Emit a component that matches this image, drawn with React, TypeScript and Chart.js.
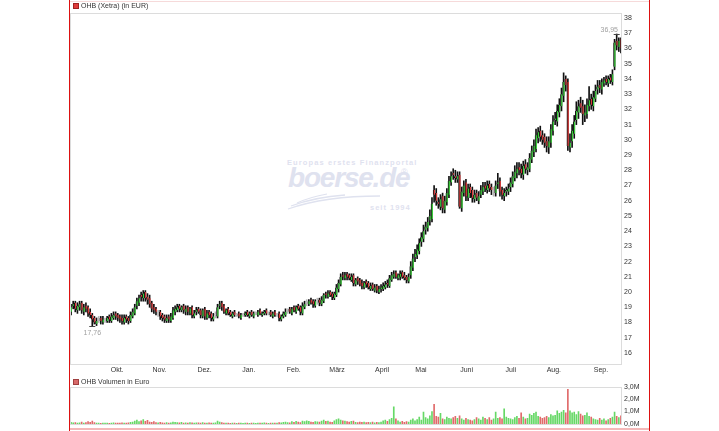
import React, { useEffect, useRef } from 'react';
import { Chart, registerables } from 'chart.js';

Chart.register(...registerables);

const OPEN = [
  18.7, 19.1, 19.3, 18.8, 19.0, 19.3, 18.7, 19.1, 19.0, 18.7,
  18.5, 18.3, 17.9, 18.2, 18.3, 18.0, 18.2, 18.1, 18.4, 18.1,
  18.3, 18.6, 18.5, 18.4, 18.3, 18.0, 18.4, 18.3, 18.1, 18.4,
  18.6, 19.1, 19.3, 19.8, 19.6, 20.0, 19.7, 19.6, 19.3, 19.0,
  18.9, 18.6, 18.7, 18.5, 18.4, 18.1, 18.4, 18.1, 18.3, 18.7,
  18.8, 19.1, 18.8, 19.1, 18.7, 19.0, 18.6, 19.0, 18.4, 18.7,
  18.9, 18.8, 18.4, 18.9, 18.3, 18.7, 18.6, 18.2, 18.5, 18.4,
  19.1, 19.3, 19.1, 18.6, 18.9, 18.7, 18.4, 18.7, 18.5, 18.6,
  18.3, 18.5, 18.5, 18.7, 18.4, 18.7, 18.4, 18.6, 18.5, 18.8,
  18.5, 18.6, 18.8, 18.6, 18.7, 18.4, 18.7, 18.5, 18.6, 18.2,
  18.4, 18.5, 18.8, 18.9, 18.6, 19.0, 18.7, 19.1, 19.0, 18.6,
  19.0, 19.3, 19.2, 19.5, 19.4, 19.1, 19.4, 19.5, 19.2, 19.4,
  19.9, 19.7, 20.0, 19.9, 19.6, 19.8, 20.2, 20.5, 21.1, 20.9,
  21.2, 21.1, 20.8, 21.1, 20.5, 20.9, 20.8, 20.6, 20.3, 20.7,
  20.6, 20.2, 20.5, 20.1, 20.4, 20.0, 20.2, 20.2, 20.3, 20.6,
  20.4, 20.8, 21.0, 21.3, 20.9, 21.0, 21.3, 21.1, 21.0, 20.7,
  21.1, 21.6, 22.3, 22.4, 22.7, 23.3, 23.5, 24.1, 24.2, 24.7,
  24.8, 26.7, 26.5, 25.9, 25.6, 26.3, 25.4, 25.9, 26.4, 27.2,
  27.8, 27.6, 27.4, 27.7, 25.5, 26.5, 27.2, 26.2, 26.9, 26.7,
  26.1, 26.5, 26.0, 26.4, 26.6, 27.0, 26.7, 27.1, 26.9, 26.6,
  26.5, 27.1, 27.3, 26.7, 26.3, 26.6, 26.6, 26.9, 27.1, 27.5,
  27.8, 28.2, 28.1, 27.7, 28.4, 28.0, 28.1, 28.7, 29.2, 29.4,
  30.1, 30.6, 30.3, 30.2, 29.9, 29.5, 29.8, 30.6, 31.3, 31.2,
  31.8, 32.2, 32.9, 34.0, 33.8, 29.5, 29.9, 30.4, 31.3, 31.8,
  32.4, 32.2, 31.6, 31.7, 32.2, 32.7, 32.2, 32.7, 33.3, 33.6,
  33.3, 33.7, 34.0, 33.7, 34.1, 33.8, 34.8, 36.5, 36.1, 36.6,
];

const HIGH = [
  19.2, 19.4, 19.4, 19.3, 19.4, 19.4, 19.2, 19.3, 19.1, 18.9,
  18.6, 18.4, 18.3, 18.4, 18.4, 18.4, 18.3, 18.4, 18.5, 18.6,
  18.7, 18.7, 18.6, 18.5, 18.5, 18.5, 18.5, 18.4, 18.7, 18.9,
  19.2, 19.6, 19.8, 20.0, 20.1, 20.1, 19.9, 19.8, 19.4, 19.2,
  19.0, 18.8, 18.8, 18.6, 18.5, 18.5, 18.5, 18.6, 19.0, 19.1,
  19.2, 19.2, 19.1, 19.2, 19.1, 19.1, 19.0, 19.1, 18.8, 19.0,
  19.0, 18.9, 18.9, 19.0, 18.8, 18.8, 18.7, 18.6, 18.7, 19.2,
  19.4, 19.4, 19.2, 18.9, 19.0, 18.8, 18.7, 18.8, 18.6, 18.7,
  18.6, 18.6, 18.7, 18.8, 18.7, 18.8, 18.7, 18.7, 18.8, 18.9,
  18.7, 18.8, 18.9, 18.7, 18.8, 18.7, 18.8, 18.6, 18.7, 18.5,
  18.7, 18.9, 18.9, 19.0, 19.0, 19.1, 19.1, 19.2, 19.1, 19.3,
  19.4, 19.5, 19.5, 19.6, 19.5, 19.5, 19.6, 19.6, 19.7, 19.9,
  20.0, 20.1, 20.1, 20.0, 20.0, 20.5, 20.8, 21.2, 21.3, 21.3,
  21.3, 21.2, 21.2, 21.2, 20.9, 21.0, 20.9, 20.8, 20.7, 20.8,
  20.7, 20.6, 20.6, 20.5, 20.5, 20.4, 20.5, 20.6, 20.7, 20.8,
  21.1, 21.3, 21.4, 21.4, 21.2, 21.4, 21.4, 21.3, 21.1, 21.2,
  22.0, 22.5, 22.8, 23.1, 23.5, 23.9, 24.4, 24.6, 24.9, 25.4,
  26.2, 27.0, 26.8, 26.2, 26.4, 26.5, 26.3, 26.8, 27.6, 27.9,
  28.1, 28.0, 27.9, 27.9, 26.9, 27.3, 27.4, 27.1, 27.1, 26.9,
  26.7, 26.7, 26.6, 27.0, 27.2, 27.2, 27.3, 27.3, 27.1, 26.9,
  27.3, 27.8, 27.5, 26.9, 26.8, 26.9, 27.1, 27.5, 27.9, 28.3,
  28.5, 28.5, 28.4, 28.6, 28.7, 28.5, 29.1, 29.6, 30.0, 30.7,
  30.8, 30.9, 30.6, 30.4, 30.2, 30.2, 31.0, 31.6, 31.8, 32.3,
  32.7, 33.4, 34.4, 34.2, 34.0, 30.4, 31.0, 31.6, 32.5, 32.6,
  32.8, 32.6, 32.3, 32.7, 33.5, 33.0, 33.2, 33.6, 33.9, 33.9,
  34.0, 34.1, 34.2, 34.2, 34.3, 34.6, 36.6, 36.95, 36.7, 36.7,
];

const LOW = [
  18.5, 18.9, 18.7, 18.6, 18.8, 18.6, 18.5, 18.7, 18.4, 18.3,
  17.76, 17.9, 17.8, 18.0, 17.9, 17.9, 18.0, 18.0, 18.0, 18.0,
  18.2, 18.2, 18.1, 18.0, 17.9, 17.9, 18.0, 17.9, 18.0, 18.3,
  18.5, 18.9, 19.1, 19.4, 19.4, 19.4, 19.2, 19.0, 18.7, 18.6,
  18.5, 18.4, 18.2, 18.1, 18.0, 18.0, 18.0, 18.0, 18.2, 18.5,
  18.7, 18.7, 18.7, 18.6, 18.5, 18.5, 18.5, 18.3, 18.3, 18.5,
  18.6, 18.3, 18.3, 18.2, 18.2, 18.3, 18.1, 18.1, 18.3, 18.3,
  18.9, 18.8, 18.6, 18.5, 18.5, 18.4, 18.3, 18.4, 18.4, 18.3,
  18.2, 18.4, 18.4, 18.4, 18.3, 18.4, 18.3, 18.5, 18.4, 18.5,
  18.4, 18.5, 18.5, 18.5, 18.4, 18.3, 18.4, 18.4, 18.1, 18.1,
  18.3, 18.4, 18.6, 18.6, 18.5, 18.7, 18.6, 18.8, 18.5, 18.5,
  18.9, 19.1, 19.1, 19.2, 19.0, 19.0, 19.2, 19.1, 19.1, 19.3,
  19.6, 19.6, 19.7, 19.5, 19.5, 19.7, 20.0, 20.4, 20.8, 20.8,
  20.8, 20.8, 20.7, 20.4, 20.4, 20.5, 20.4, 20.2, 20.2, 20.3,
  20.2, 20.1, 20.1, 20.0, 19.95, 19.9, 20.0, 20.1, 20.2, 20.3,
  20.3, 20.7, 20.9, 20.9, 20.8, 20.8, 20.9, 20.8, 20.6, 20.6,
  20.9, 21.4, 22.0, 22.2, 22.5, 23.0, 23.3, 23.8, 24.0, 24.4,
  24.6, 25.9, 25.7, 25.5, 25.4, 25.2, 25.2, 25.7, 26.2, 27.0,
  27.4, 27.2, 27.2, 25.5, 25.3, 26.3, 26.0, 26.0, 26.2, 25.9,
  25.9, 26.0, 25.8, 26.2, 26.4, 26.6, 26.5, 26.6, 26.4, 26.3,
  26.3, 26.8, 26.3, 26.1, 26.0, 26.3, 26.4, 26.6, 26.9, 27.3,
  27.5, 27.7, 27.5, 27.4, 27.8, 27.7, 27.9, 28.5, 28.9, 29.2,
  29.8, 29.9, 29.7, 29.5, 29.2, 29.1, 29.5, 30.3, 31.0, 30.9,
  31.5, 31.9, 32.5, 33.2, 29.3, 29.2, 29.5, 30.1, 31.0, 31.4,
  31.8, 31.0, 31.2, 31.4, 31.9, 32.0, 31.9, 32.5, 33.0, 33.1,
  33.0, 33.5, 33.6, 33.5, 33.7, 33.6, 34.6, 35.9, 35.8, 35.7,
];

const CLOSE = [
  19.0, 19.2, 18.9, 19.1, 19.2, 18.8, 19.0, 18.9, 18.6, 18.5,
  18.2, 18.0, 18.1, 18.2, 18.1, 18.2, 18.2, 18.3, 18.2, 18.4,
  18.5, 18.4, 18.3, 18.2, 18.1, 18.3, 18.2, 18.1, 18.5, 18.7,
  19.0, 19.4, 19.6, 19.7, 19.9, 19.6, 19.5, 19.2, 18.9, 18.8,
  18.7, 18.6, 18.4, 18.3, 18.2, 18.3, 18.2, 18.4, 18.8, 18.9,
  19.0, 18.9, 19.0, 18.8, 18.9, 18.7, 18.9, 18.5, 18.6, 18.8,
  18.7, 18.5, 18.8, 18.4, 18.6, 18.5, 18.3, 18.4, 18.5, 19.0,
  19.2, 19.0, 18.7, 18.8, 18.6, 18.5, 18.6, 18.5, 18.5, 18.4,
  18.5, 18.5, 18.6, 18.5, 18.6, 18.5, 18.6, 18.6, 18.7, 18.6,
  18.6, 18.7, 18.6, 18.6, 18.5, 18.6, 18.5, 18.5, 18.3, 18.4,
  18.6, 18.7, 18.8, 18.7, 18.9, 18.8, 19.0, 18.9, 18.7, 19.1,
  19.2, 19.3, 19.4, 19.3, 19.2, 19.4, 19.4, 19.3, 19.5, 19.8,
  19.8, 19.9, 19.8, 19.7, 19.9, 20.3, 20.6, 21.0, 21.0, 21.1,
  21.0, 20.9, 21.0, 20.6, 20.8, 20.7, 20.5, 20.4, 20.6, 20.5,
  20.3, 20.4, 20.2, 20.3, 20.1, 20.2, 20.3, 20.4, 20.5, 20.5,
  20.9, 21.1, 21.2, 21.0, 21.1, 21.2, 21.0, 20.9, 20.8, 21.0,
  21.7, 22.2, 22.5, 22.8, 23.2, 23.6, 24.0, 24.3, 24.6, 25.0,
  25.8, 26.4, 26.0, 25.8, 26.1, 25.5, 26.0, 26.5, 27.3, 27.6,
  27.7, 27.5, 27.6, 25.6, 26.6, 27.0, 26.3, 26.8, 26.5, 26.2,
  26.4, 26.2, 26.3, 26.7, 26.9, 26.8, 27.0, 26.8, 26.7, 26.6,
  27.0, 27.2, 26.6, 26.4, 26.5, 26.7, 26.8, 27.2, 27.6, 27.9,
  28.1, 28.0, 27.8, 28.3, 28.1, 28.2, 28.8, 29.3, 29.6, 30.3,
  30.5, 30.2, 30.0, 29.8, 29.6, 29.9, 30.7, 31.2, 31.4, 31.9,
  32.3, 33.0, 33.8, 33.6, 29.6, 29.8, 30.6, 31.2, 31.9, 32.2,
  32.1, 31.7, 31.8, 32.3, 32.6, 32.3, 32.8, 33.2, 33.5, 33.4,
  33.8, 33.9, 33.8, 34.0, 33.9, 34.3, 36.4, 36.2, 36.5, 36.0,
];

// volume in millions of euro
const VOLUME = [
  0.12, 0.08, 0.10, 0.06, 0.09, 0.14, 0.07, 0.10, 0.18, 0.12,
  0.22, 0.10, 0.06, 0.05, 0.04, 0.06, 0.05, 0.07, 0.04, 0.06,
  0.08, 0.06, 0.05, 0.07, 0.09, 0.06, 0.05, 0.08, 0.12, 0.15,
  0.22, 0.30, 0.18, 0.25, 0.35, 0.20, 0.28, 0.15, 0.12, 0.18,
  0.10, 0.08, 0.12, 0.09, 0.07, 0.10, 0.06, 0.08, 0.14, 0.12,
  0.10, 0.08, 0.12, 0.07, 0.09, 0.06, 0.10, 0.08, 0.07, 0.09,
  0.08, 0.06, 0.10, 0.07, 0.05, 0.08, 0.06, 0.07, 0.09, 0.22,
  0.15, 0.10, 0.07, 0.06, 0.05, 0.04, 0.06, 0.05, 0.04, 0.05,
  0.05, 0.04, 0.06, 0.05, 0.04, 0.05, 0.06, 0.04, 0.07, 0.05,
  0.06, 0.08, 0.05, 0.04, 0.06, 0.05, 0.07, 0.06, 0.10, 0.08,
  0.12, 0.15, 0.10, 0.09, 0.18, 0.12, 0.20, 0.14, 0.10, 0.22,
  0.18, 0.25, 0.20, 0.15, 0.12, 0.18, 0.16, 0.14, 0.22, 0.30,
  0.20, 0.22, 0.15, 0.12, 0.25, 0.35, 0.40, 0.30, 0.25, 0.22,
  0.18, 0.15, 0.20, 0.22, 0.12, 0.10, 0.15, 0.12, 0.14, 0.10,
  0.12, 0.10, 0.15, 0.08, 0.12, 0.10, 0.14, 0.25, 0.30, 0.20,
  0.35, 0.45, 1.38, 0.40, 0.25, 0.15, 0.20, 0.12, 0.18, 0.15,
  0.30, 0.40, 0.25, 0.35, 0.55, 0.30, 0.95, 0.50, 0.40, 0.65,
  1.00, 1.58, 0.60, 0.55, 0.85, 0.40, 0.35, 0.55, 0.45, 0.40,
  0.50, 0.60, 0.45, 0.65, 0.40, 0.30, 0.45, 0.35, 0.30, 0.25,
  0.35, 0.50, 0.40, 0.30, 0.55, 0.45, 0.35, 0.50, 0.30, 0.40,
  0.95, 0.45, 0.50, 0.40, 1.22, 0.55, 0.45, 0.40, 0.35, 0.50,
  0.60, 0.45, 0.90, 0.55, 0.40, 0.45, 0.80, 0.70, 0.85, 0.95,
  0.60, 0.55, 0.45, 0.50, 0.60, 0.50, 0.75, 0.65, 0.70, 1.05,
  0.85, 0.95, 1.10, 0.90, 2.80, 1.05, 0.90, 0.95, 0.75, 1.00,
  0.80, 0.65, 0.70, 0.90, 0.60, 0.55, 0.40, 0.35, 0.30, 0.45,
  0.30, 0.40, 0.25, 0.35, 0.45, 0.55, 0.95, 0.60, 0.50, 0.65,
];

const MONTH_LABELS = ['Okt.', 'Nov.', 'Dez.', 'Jan.', 'Feb.', 'März', 'April', 'Mai', 'Juni', 'Juli', 'Aug.', 'Sep.'];
const MONTH_POS = [21.7, 41.6, 62.9, 83.7, 104.9, 125.3, 146.5, 164.8, 186.3, 207.1, 227.4, 249.6];
const PRICE_TICKS = [16, 17, 18, 19, 20, 21, 22, 23, 24, 25, 26, 27, 28, 29, 30, 31, 32, 33, 34, 35, 36, 37, 38];
const VOLUME_TICKS = [0, 1, 2, 3];

const PRICE_TITLE = 'OHB (Xetra) (in EUR)';
const VOLUME_TITLE = 'OHB Volumen in Euro';

const UP = '#3ccc3c';
const DOWN = '#d83c3c';
const FLAT = '#c8c8c8';
const VOL_UP = '#66d866';
const VOL_DOWN = '#e06a6a';
const FONT = '"Liberation Sans", Arial, sans-serif';

const dirColor = (i: number) => (CLOSE[i] > OPEN[i] ? UP : CLOSE[i] < OPEN[i] ? DOWN : FLAT);

const framePlugin = {
  id: 'frameBox',
  afterDraw(chart: any) {
    const { ctx, chartArea } = chart;
    ctx.save();
    ctx.strokeStyle = '#dcdcdc';
    ctx.lineWidth = 1;
    ctx.strokeRect(
      Math.round(chartArea.left) + 0.5,
      Math.round(chartArea.top) + 0.5,
      Math.round(chartArea.right - chartArea.left) - 1,
      Math.round(chartArea.bottom - chartArea.top) - 1,
    );
    ctx.restore();
  },
};

const extremesPlugin = {
  id: 'extremes',
  afterDatasetsDraw(chart: any) {
    const { ctx, chartArea } = chart;
    const xs = chart.scales.x;
    const ys = chart.scales.y;
    let hi = 0;
    let lo = 0;
    for (let i = 0; i < HIGH.length; i++) {
      if (HIGH[i] > HIGH[hi]) hi = i;
      if (LOW[i] < LOW[lo]) lo = i;
    }
    const fmt = (v: number) => v.toFixed(2).replace('.', ',');
    ctx.save();
    ctx.strokeStyle = '#444';
    ctx.lineWidth = 1;
    const hx = xs.getPixelForValue(hi);
    const hy = Math.round(ys.getPixelForValue(HIGH[hi])) + 0.5;
    const lx = xs.getPixelForValue(lo);
    const ly = Math.round(ys.getPixelForValue(LOW[lo])) + 0.5;
    ctx.beginPath();
    ctx.moveTo(hx - 3, hy);
    ctx.lineTo(hx + 3, hy);
    ctx.moveTo(lx - 3, ly);
    ctx.lineTo(lx + 3, ly);
    ctx.stroke();
    ctx.font = `7px ${FONT}`;
    ctx.fillStyle = '#a0a0a0';
    ctx.textAlign = 'center';
    const hText = fmt(HIGH[hi]);
    const hw = ctx.measureText(hText).width;
    let hcx = hx;
    if (hcx + hw / 2 > chartArea.right - 4) hcx = chartArea.right - 4 - hw / 2;
    ctx.textBaseline = 'bottom';
    ctx.fillText(hText, hcx, hy - 1);
    ctx.textBaseline = 'top';
    ctx.fillText(fmt(LOW[lo]), lx, ly + 3);
    ctx.restore();
  },
};

export default function App() {
  const priceRef = useRef<HTMLCanvasElement>(null);
  const volRef = useRef<HTMLCanvasElement>(null);

  useEffect(() => {
    Chart.defaults.font.family = FONT;
    Chart.defaults.font.size = 7;
    Chart.defaults.color = '#333';
    const idx = CLOSE.map((_, i) => i);

    const xScaleCommon = {
      type: 'linear' as const,
      min: -0.5,
      max: CLOSE.length - 0.5,
      offset: false,
      grid: { display: false, drawTicks: false },
      border: { display: false },
    };

    const price = new Chart(priceRef.current!, {
      type: 'bar',
      data: {
        datasets: [
          {
            label: 'wick',
            data: idx.map((i) => ({ x: i, y: [LOW[i], HIGH[i]] })) as any,
            backgroundColor: idx.map((i) => (dirColor(i) === FLAT ? '#b4b4b4' : '#111111')),
            barThickness: 1,
            grouped: false,
            order: 2,
          },
          {
            label: 'body',
            data: idx.map((i) => ({ x: i, y: [OPEN[i], CLOSE[i]] })) as any,
            backgroundColor: idx.map((i) => dirColor(i)),
            borderColor: idx.map((i) => (dirColor(i) === FLAT ? '#b4b4b4' : '#111111')),
            borderWidth: { left: 1, right: 0, top: 0, bottom: 0 },
            borderSkipped: false,
            barThickness: 2,
            minBarLength: 1,
            grouped: false,
            order: 1,
          },
        ],
      },
      options: {
        responsive: false,
        animation: false,
        events: [],
        layout: { padding: { left: 70, top: 13, right: 0, bottom: 0 } },
        plugins: { legend: { display: false }, tooltip: { enabled: false } },
        scales: {
          x: {
            ...xScaleCommon,
            afterBuildTicks: (s: any) => {
              s.ticks = MONTH_POS.map((v) => ({ value: v }));
            },
            afterFit: (s: any) => {
              s.height = 11;
            },
            ticks: {
              autoSkip: false,
              maxRotation: 0,
              padding: 1,
              color: '#333',
              callback: (_v: any, i: number) => MONTH_LABELS[i],
            },
          },
          y: {
            type: 'linear',
            position: 'right',
            min: 15.21,
            max: 38.33,
            grid: { display: false, drawTicks: false },
            border: { display: false },
            afterBuildTicks: (s: any) => {
              s.ticks = PRICE_TICKS.map((v) => ({ value: v }));
            },
            afterFit: (s: any) => {
              s.width = 97;
            },
            ticks: { padding: 2, color: '#333', callback: (v: any) => String(v) },
          },
        },
      },
      plugins: [framePlugin, extremesPlugin],
    });

    const vol = new Chart(volRef.current!, {
      type: 'bar',
      data: {
        datasets: [
          {
            label: 'Volumen',
            data: idx.map((i) => ({ x: i, y: VOLUME[i] })) as any,
            backgroundColor: idx.map((i) => (CLOSE[i] < OPEN[i] ? VOL_DOWN : VOL_UP)),
            barThickness: 1,
            grouped: false,
          },
        ],
      },
      options: {
        responsive: false,
        animation: false,
        events: [],
        layout: { padding: { left: 70, top: 11, right: 0, bottom: 6 } },
        plugins: { legend: { display: false }, tooltip: { enabled: false } },
        scales: {
          x: { ...xScaleCommon, display: false },
          y: {
            type: 'linear',
            position: 'right',
            min: -0.08,
            max: 3,
            grid: { display: false, drawTicks: false },
            border: { display: false },
            afterBuildTicks: (s: any) => {
              s.ticks = VOLUME_TICKS.map((v) => ({ value: v }));
            },
            afterFit: (s: any) => {
              s.width = 97;
            },
            ticks: {
              padding: 2,
              color: '#333',
              callback: (v: any) => Number(v).toFixed(1).replace('.', ',') + 'M',
            },
          },
        },
      },
      plugins: [framePlugin],
    });

    return () => {
      price.destroy();
      vol.destroy();
    };
  }, []);

  const wm = '#dfe2ef';
  return (
    <div
      style={{
        position: 'fixed',
        left: 0,
        top: 0,
        width: 719,
        height: 431,
        background: '#fff',
        overflow: 'hidden',
        fontFamily: FONT,
      }}
    >
      {/* watermark */}
      <div style={{ position: 'absolute', left: 287, top: 158, fontSize: 7.5, fontWeight: 'bold', letterSpacing: 1.1, color: wm, whiteSpace: 'nowrap' }}>
        Europas erstes Finanzportal
      </div>
      <div style={{ position: 'absolute', left: 288, top: 162, fontSize: 28, fontWeight: 'bold', fontStyle: 'italic', letterSpacing: -1.2, color: wm, whiteSpace: 'nowrap', lineHeight: '32px' }}>
        boerse.de
      </div>
      <div style={{ position: 'absolute', left: 401, top: 167, fontSize: 9, color: wm }}>®</div>
      <svg style={{ position: 'absolute', left: 285, top: 188, width: 100, height: 24 }} viewBox="0 0 100 24">
        <path d="M3 21 Q 40 8 95 8" stroke={wm} strokeWidth="1.3" fill="none" />
        <path d="M6 18 Q 30 9 60 7" stroke={wm} strokeWidth="1.3" fill="none" />
        <path d="M12 15 Q 25 9 42 6" stroke={wm} strokeWidth="1.2" fill="none" />
      </svg>
      <div style={{ position: 'absolute', left: 370, top: 203, fontSize: 7.5, fontWeight: 'bold', letterSpacing: 1, color: wm, whiteSpace: 'nowrap' }}>
        seit 1994
      </div>

      <canvas ref={priceRef} width={719} height={376} style={{ position: 'absolute', left: 0, top: 0 }} />
      <canvas ref={volRef} width={719} height={55} style={{ position: 'absolute', left: 0, top: 376 }} />

      {/* titles */}
      <div style={{ position: 'absolute', left: 73, top: 3, width: 4, height: 4, background: '#e03a3a', border: '1px solid #a02020' }} />
      <div style={{ position: 'absolute', left: 81, top: 1, fontSize: 7, color: '#333', whiteSpace: 'nowrap', lineHeight: '9px' }}>{PRICE_TITLE}</div>
      <div style={{ position: 'absolute', left: 73, top: 379, width: 4, height: 4, background: '#d86a6a', border: '1px solid #a04040' }} />
      <div style={{ position: 'absolute', left: 81, top: 377, fontSize: 7, color: '#333', whiteSpace: 'nowrap', lineHeight: '9px' }}>{VOLUME_TITLE}</div>

      {/* frame lines */}
      <div style={{ position: 'absolute', left: 69, top: 1, width: 580, height: 1, background: '#f6dada' }} />
      <div style={{ position: 'absolute', left: 69, top: 428, width: 580, height: 2, background: '#f4b8b8' }} />
      <div style={{ position: 'absolute', left: 69, top: 0, width: 1, height: 431, background: '#dd1111' }} />
      <div style={{ position: 'absolute', left: 649, top: 0, width: 1, height: 431, background: '#dd1111' }} />
    </div>
  );
}
